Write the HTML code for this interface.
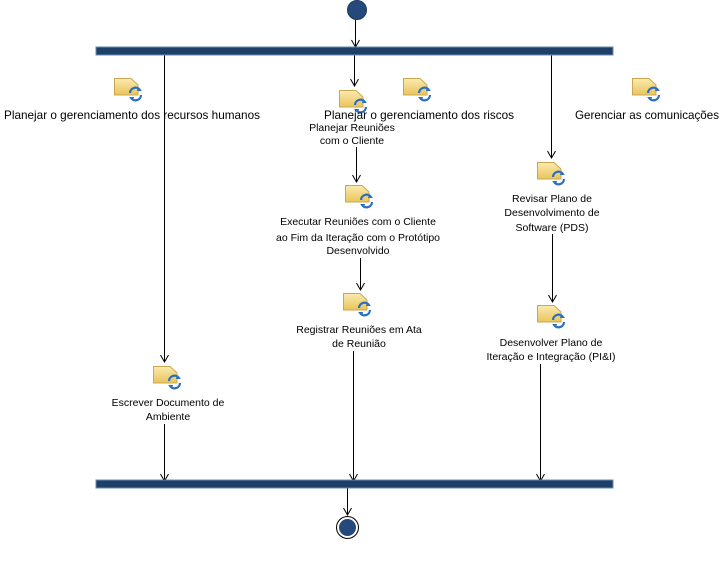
<!DOCTYPE html>
<html><head><meta charset="utf-8"><style>
html,body{margin:0;padding:0;background:#fff;}
svg{display:block;}
text{font-family:"Liberation Sans",sans-serif;fill:#000;}
.s{font-size:10.5px;}
.b{font-size:12px;}
</style></head><body>
<svg width="721" height="561" viewBox="0 0 721 561" xmlns="http://www.w3.org/2000/svg">
<defs>
<linearGradient id="g" x1="0" y1="0" x2="0" y2="1"><stop offset="0" stop-color="#fbeab0"/><stop offset="1" stop-color="#e9c45a"/></linearGradient>
<g id="ic">
<path d="M0.5 0.5 H17 L24 7 V17 H0.5 Z" fill="url(#g)" stroke="#c9a850" stroke-width="1"/>
<path d="M16 15 A5.5 5.5 0 0 1 26 12" fill="none" stroke="#2a6fc0" stroke-width="2.2"/>
<path d="M27 17 A5.5 5.5 0 0 1 17 20" fill="none" stroke="#2a6fc0" stroke-width="2.2"/>
<path d="M24 9 L28 13 L23 13 Z" fill="#2a6fc0"/>
<path d="M19 23 L15 19 L20 19 Z" fill="#2a6fc0"/>
</g>
<marker id="a" markerWidth="10" markerHeight="10" refX="9" refY="5" orient="auto" markerUnits="userSpaceOnUse"><path d="M2 1 L9 5 L2 9" fill="none" stroke="#000" stroke-width="1"/></marker>
</defs>
<g stroke="#000" stroke-width="1" fill="none">
<line x1="355.5" y1="19" x2="355.5" y2="47" marker-end="url(#a)"/>
<line x1="164.5" y1="54" x2="164.5" y2="362" marker-end="url(#a)"/>
<line x1="354.5" y1="54" x2="354.5" y2="86" marker-end="url(#a)"/>
<line x1="551.5" y1="54" x2="551.5" y2="158" marker-end="url(#a)"/>
<line x1="356.5" y1="147" x2="356.5" y2="182" marker-end="url(#a)"/>
<line x1="360.5" y1="258" x2="360.5" y2="290" marker-end="url(#a)"/>
<line x1="552.5" y1="234" x2="552.5" y2="302" marker-end="url(#a)"/>
<line x1="164.5" y1="424" x2="164.5" y2="481" marker-end="url(#a)"/>
<line x1="353.5" y1="351" x2="353.5" y2="481" marker-end="url(#a)"/>
<line x1="540.5" y1="364" x2="540.5" y2="481" marker-end="url(#a)"/>
<line x1="347.5" y1="488" x2="347.5" y2="515" marker-end="url(#a)"/>
</g>
<rect x="96" y="47" width="517" height="8" fill="#1f3f67" stroke="#6a8bb0" stroke-width="1"/>
<rect x="96" y="480" width="517" height="8" fill="#1f3f67" stroke="#6a8bb0" stroke-width="1"/>
<circle cx="357" cy="10" r="9.5" fill="#25497a" stroke="#1a3a5f"/>
<circle cx="347.5" cy="527.5" r="11" fill="#fff" stroke="#000"/>
<circle cx="347.5" cy="527.5" r="8.5" fill="#25497a"/>
<use href="#ic" x="114" y="78"/>
<use href="#ic" x="339" y="90"/>
<use href="#ic" x="403" y="78"/>
<use href="#ic" x="632" y="78"/>
<use href="#ic" x="345" y="185"/>
<use href="#ic" x="343" y="293"/>
<use href="#ic" x="537" y="162"/>
<use href="#ic" x="537" y="305"/>
<use href="#ic" x="153" y="366"/>
<text class="b" x="4" y="119" textLength="256" lengthAdjust="spacingAndGlyphs">Planejar o gerenciamento dos recursos humanos</text>
<text class="b" x="324" y="119" textLength="190" lengthAdjust="spacingAndGlyphs">Planejar o gerenciamento dos riscos</text>
<text class="b" x="575" y="119" textLength="144" lengthAdjust="spacingAndGlyphs">Gerenciar as comunicações</text>
<g class="s" text-anchor="middle">
<text x="352" y="131">Planejar Reuniões</text>
<text x="352" y="144">com o Cliente</text>
<text x="358" y="225">Executar Reuniões com o Cliente</text>
<text x="358" y="241">ao Fim da Iteração com o Protótipo</text>
<text x="358" y="254">Desenvolvido</text>
<text x="359" y="333">Registrar Reuniões em Ata</text>
<text x="359" y="347">de Reunião</text>
<text x="552" y="202">Revisar Plano de</text>
<text x="552" y="216">Desenvolvimento de</text>
<text x="552" y="231">Software (PDS)</text>
<text x="551" y="346">Desenvolver Plano de</text>
<text x="551" y="360">Iteração e Integração (PI&amp;I)</text>
<text x="168" y="406">Escrever Documento de</text>
<text x="168" y="420">Ambiente</text>
</g>
</svg>
</body></html>
